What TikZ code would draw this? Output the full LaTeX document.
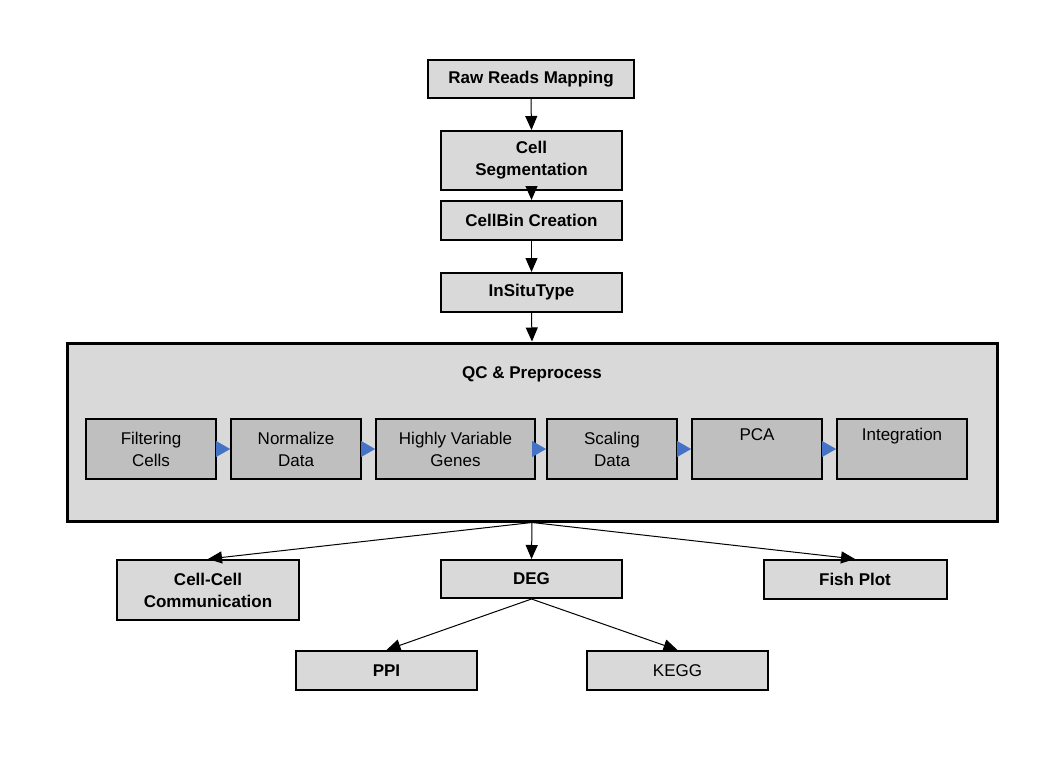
\documentclass[tikz,border=0pt]{standalone}
\usepackage{fontspec}
\setmainfont{Liberation Sans}
\usetikzlibrary{arrows.meta}
\definecolor{boxgray}{HTML}{D9D9D9}
\definecolor{innergray}{HTML}{BFBFBF}
\definecolor{tipblue}{HTML}{4472C4}
\begin{document}
\begin{tikzpicture}[x=1pt,y=-1pt,
  every node/.style={font=\fontsize{17}{22}\selectfont},
  box/.style={draw, line width=2pt, fill=boxgray, inner sep=0pt, minimum width=181pt,
    minimum height=39pt, align=center, font=\fontsize{17}{22}\selectfont\bfseries},
  plainbox/.style={box, font=\fontsize{17}{22}\selectfont},
  inner/.style={draw, line width=2pt, fill=innergray, inner sep=0pt, minimum width=130pt,
    minimum height=60pt, align=center, font=\fontsize{17}{22}\selectfont},
  arr/.style={line width=1pt, -{Triangle[length=14pt,width=12pt]}},
  bluearr/.style={draw=tipblue, line width=0.2pt, -{Triangle[length=14pt,width=16pt,fill=tipblue]}}
]
\useasboundingbox (0,0) rectangle (1064,762);

\node[box, minimum width=206pt, minimum height=38pt] (raw) at (531,79) {Raw Reads Mapping};
\node[box, minimum height=59pt] (seg) at (531.5,160.5) {Cell\\Segmentation};
\node[box] (bin) at (531.5,220.5) {CellBin Creation};
\node[box] (ist) at (531.5,292.5) {InSituType};

\node[draw, line width=3pt, fill=boxgray, minimum width=930pt, minimum height=178pt, inner sep=0pt] (qc) at (532,432) {};
\node[font=\fontsize{17}{22}\selectfont\bfseries] (qct) at (532,374) {QC \& Preprocess};

\node[inner] (f1) at (151,449) {Filtering\\Cells};
\node[inner] (f2) at (296,449) {Normalize\\Data};
\node[inner, minimum width=159pt] (f3) at (455.5,449) {Highly Variable\\Genes};
\node[inner] (f4) at (612,449) {Scaling\\Data};
\node[inner] (f5) at (757,449) {PCA\\\strut};
\node[inner] (f6) at (902,449) {Integration\\\strut};

\draw[bluearr] (f1.east) -- (f2.west);
\draw[bluearr] (f2.east) -- (f3.west);
\draw[bluearr] (f3.east) -- (f4.west);
\draw[bluearr] (f4.east) -- (f5.west);
\draw[bluearr] (f5.east) -- (f6.west);

\node[box, minimum width=182pt, minimum height=60pt] (cc) at (208,590) {Cell-Cell\\Communication};
\node[box, minimum height=38pt] (deg) at (531.5,579) {DEG};
\node[box, minimum width=183pt] (fish) at (855,579.5) {Fish Plot};
\node[box] (ppi) at (386.5,670.5) {PPI};
\node[plainbox] (kegg) at (677.5,670.5) {KEGG};

\draw[arr] (raw.south) -- (seg.north);
\draw[arr] (seg.south) -- (bin.north);
\draw[arr] (bin.south) -- (ist.north);
\draw[arr] (ist.south) -- (qc.north);

\draw[arr] (qc.south) -- (cc.north);
\draw[arr] (qc.south) -- (deg.north);
\draw[arr] (qc.south) -- (fish.north);
\draw[arr] (deg.south) -- (ppi.north);
\draw[arr] (deg.south) -- (kegg.north);
\end{tikzpicture}
\end{document}
